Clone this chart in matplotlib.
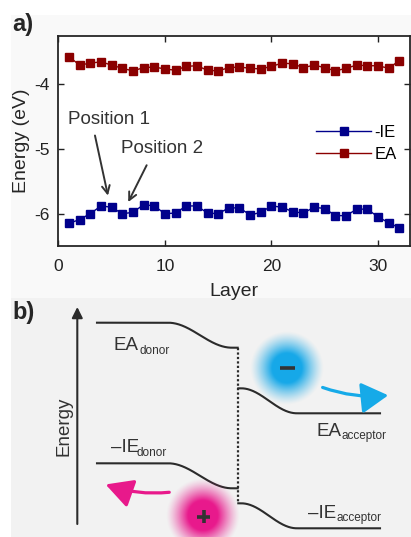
import numpy as np
import matplotlib
matplotlib.use("Agg")
import matplotlib.pyplot as plt
from matplotlib.patches import Rectangle, FancyArrowPatch

plt.rcParams['font.family'] = ['Liberation Sans', 'DejaVu Sans']
plt.rcParams['axes.unicode_minus'] = False

# ---------------- data: panel a ----------------
layers = list(range(1, 33))
neg_ie = [-6.15, -6.09, -6.00, -5.88, -5.90, -6.00, -5.98, -5.86, -5.88, -6.00,
          -5.99, -5.88, -5.88, -5.99, -6.00, -5.91, -5.91, -6.02, -5.98, -5.88,
          -5.90, -5.97, -5.99, -5.90, -5.92, -6.03, -6.03, -5.93, -5.93, -6.05,
          -6.14, -6.22]
ea = [-3.57, -3.70, -3.67, -3.65, -3.70, -3.75, -3.79, -3.74, -3.73, -3.76,
      -3.78, -3.72, -3.71, -3.78, -3.79, -3.74, -3.73, -3.75, -3.76, -3.72,
      -3.67, -3.68, -3.74, -3.70, -3.74, -3.79, -3.75, -3.70, -3.71, -3.71,
      -3.75, -3.63]
x_ticks = [0, 10, 20, 30]
y_ticks = [-6, -5, -4]
series_labels = ["-IE", "EA"]

# ---------------- data: panel b (schematic levels, in figure pixels) ----------------
donor_ea = [322.7, 347.7]       # start level, level at interface
donor_ie = [463.3, 488.3]
acceptor_ea = [388.3, 413.3]    # level at interface, bulk level
acceptor_ie = [503.3, 528.3]

W, H = 411, 537
DPI = 100
fig = plt.figure(figsize=(W / DPI, H / DPI), dpi=DPI)
fig.patch.set_facecolor('white')

# background / schematic axes in pixel coordinates
bg = fig.add_axes([0, 0, 1, 1], zorder=0)
bg.set_xlim(0, W)
bg.set_ylim(H, 0)
bg.axis('off')
bg.add_patch(Rectangle((11, 15), W - 11, 283, facecolor='#f9f9f9', edgecolor='none'))
bg.add_patch(Rectangle((11, 298), W - 11, H - 298, facecolor='#f2f2f2', edgecolor='none'))

# ---------------- panel a ----------------
L, R, T, B = 58.3, 410.0, 36.0, 246.0
ax = fig.add_axes([L / W, 1 - B / H, (R - L) / W, (B - T) / H], zorder=2)
ax.set_facecolor('white')
ax.plot(layers, neg_ie, '-s', color='#00008b', lw=1.0, ms=6.2,
        mfc='#00008b', mec='#00008b', label=series_labels[0])
ax.plot(layers, ea, '-s', color='#8b0000', lw=1.0, ms=6.2,
        mfc='#8b0000', mec='#8b0000', label=series_labels[1])
ax.set_xlim(0, 33)
ax.set_ylim(-6.5, -3.25)
ax.set_xticks(x_ticks)
ax.set_yticks(y_ticks)
ax.tick_params(direction='in', length=4, width=1, top=True, right=True,
               labelsize=12.5, colors='#222222', pad=6)
ax.tick_params(axis='x', pad=9)
for s in ax.spines.values():
    s.set_linewidth(1.3)
    s.set_color('#262626')
ax.set_xlabel('Layer', fontsize=14, color='#262626', labelpad=7)
ax.set_ylabel('Energy (eV)', fontsize=14, color='#262626')
ax.yaxis.set_label_coords((29.5 - L) / (R - L), 0.5)
leg = ax.legend(loc='center right', bbox_to_anchor=(1.0, 0.49), frameon=False,
                fontsize=12, handlelength=3.3, handletextpad=0.2,
                labelspacing=0.42, borderaxespad=0.4)

tc = '#333333'
ax.text(0.9, -4.55, 'Position 1', fontsize=13.5, color=tc, ha='left', va='center')
ax.text(5.9, -4.99, 'Position 2', fontsize=13.5, color=tc, ha='left', va='center')
ax.annotate('', xy=(4.66, -5.72), xytext=(3.44, -4.79),
            arrowprops=dict(arrowstyle='->', color=tc, lw=1.4,
                            shrinkA=0, shrinkB=0, mutation_scale=14))
ax.annotate('', xy=(6.56, -5.82), xytext=(8.29, -5.25),
            arrowprops=dict(arrowstyle='->', color=tc, lw=1.4,
                            shrinkA=0, shrinkB=0, mutation_scale=14))

fig.text(12 / W, 1 - 25 / H, 'a)', fontsize=17, fontweight='bold',
         color='#262626', va='center', ha='left')

# ---------------- panel b ----------------
fig.text(12 / W, 1 - 312 / H, 'b)', fontsize=17, fontweight='bold',
         color='#262626', va='center', ha='left')

lc = '#2b2b2b'


def smooth(x, x0, x1, y0, y1):
    t = np.clip((x - x0) / (x1 - x0), 0, 1)
    return y0 + (y1 - y0) * (0.5 - 0.5 * np.cos(np.pi * t))


xd = np.linspace(97, 237.7, 300)
bg.plot(xd, smooth(xd, 168, 232, donor_ea[0], donor_ea[1]), color=lc, lw=1.5)
bg.plot(xd, smooth(xd, 168, 232, donor_ie[0], donor_ie[1]), color=lc, lw=1.5)
xa = np.linspace(238.3, 380, 300)
bg.plot(xa, smooth(xa, 241, 297, acceptor_ea[0], acceptor_ea[1]), color=lc, lw=1.5)
bg.plot(xa, smooth(xa, 241, 297, acceptor_ie[0], acceptor_ie[1]), color=lc, lw=1.5)
bg.plot([238, 238], [donor_ea[1], acceptor_ie[0]], color=lc, lw=1.6,
        linestyle=(0, (1, 1)))

# energy axis arrow
bg.annotate('', xy=(77.3, 307), xytext=(77.3, 524),
            arrowprops=dict(arrowstyle='-|>', color=lc, lw=1.5,
                            mutation_scale=16, shrinkA=0, shrinkB=0))
bg.text(63.5, 426.5, 'Energy', rotation=90, fontsize=13.5, color='#333333',
        ha='center', va='center')


# level labels (main + subscript)
def level_label(x, y, main, sub, xs):
    bg.text(x, y, main, fontsize=13.5, color='#333333', ha='left', va='baseline')
    bg.text(xs, y + 3.5, sub, fontsize=8.5, color='#333333', ha='left', va='baseline')


level_label(113.5, 350, 'EA', 'donor', 139)
level_label(110.5, 452.5, '\u2013IE', 'donor', 136.5)
level_label(316.5, 436, 'EA', 'acceptor', 342)
level_label(308.5, 518, '\u2013IE', 'acceptor', 336.5)


# glowing charges
def glow(cx, cy, rgb, r_core=15, r_out=37):
    n = 220
    ext = r_out + 2
    xs = np.linspace(-ext, ext, n)
    X, Y = np.meshgrid(xs, xs)
    r = np.hypot(X, Y)
    a = np.clip((r_out - r) / (r_out - r_core), 0, 1)
    a = a ** 1.3
    img = np.zeros((n, n, 4))
    img[..., 0], img[..., 1], img[..., 2] = rgb
    img[..., 3] = a
    bg.imshow(img, extent=(cx - ext, cx + ext, cy + ext, cy - ext),
              interpolation='bilinear', zorder=3)


glow(286.7, 368.3, (0.09, 0.66, 0.91))
glow(203.0, 515.5, (0.91, 0.10, 0.55))
bg.set_xlim(0, W)
bg.set_ylim(H, 0)
bg.plot([279.5, 294.5], [368.3, 368.3], color='#333333', lw=2.6, zorder=4,
        solid_capstyle='butt')
bg.plot([197, 210], [516.5, 516.5], color='#333333', lw=2.6, zorder=4,
        solid_capstyle='butt')
bg.plot([203.5, 203.5], [510, 523], color='#333333', lw=2.6, zorder=4,
        solid_capstyle='butt')

# charge motion arrows
blue = '#16aae8'
pink = '#e8198b'
bg.add_patch(FancyArrowPatch((320, 386.5), (391, 395), connectionstyle='arc3,rad=0.12',
                             arrowstyle='-|>,head_length=7.5,head_width=4.3',
                             color=blue, lw=2.3, mutation_scale=2.2, zorder=4))
bg.add_patch(FancyArrowPatch((172, 492), (103, 483.5), connectionstyle='arc3,rad=-0.12',
                             arrowstyle='-|>,head_length=7.5,head_width=4.0',
                             color=pink, lw=2.3, mutation_scale=2.2, zorder=4))

fig.savefig('out.png', dpi=DPI)
